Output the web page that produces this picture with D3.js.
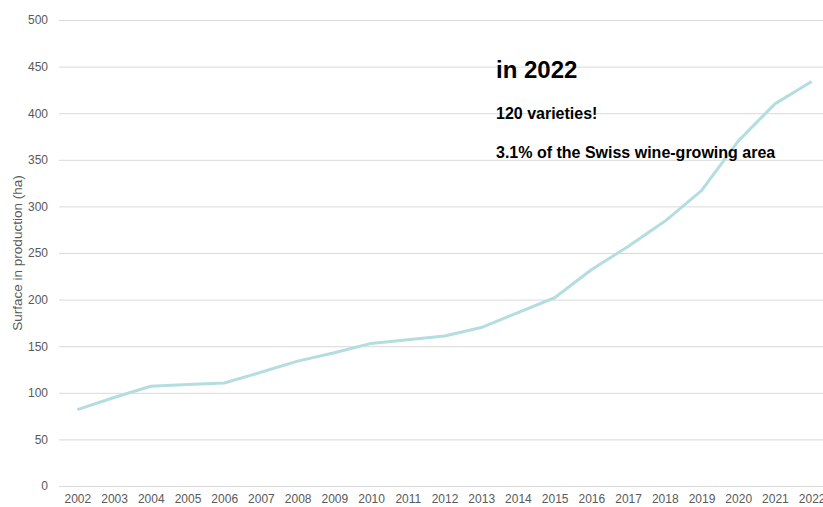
<!DOCTYPE html>
<html><head><meta charset="utf-8">
<script src="https://cdn.jsdelivr.net/npm/d3@7"></script>
<style>body{margin:0;background:#fff}svg{display:block}</style>
</head><body>
<script>
const years = ["2002","2003","2004","2005","2006","2007","2008","2009","2010","2011","2012","2013","2014","2015","2016","2017","2018","2019","2020","2021","2022"];
const surface = [82,95,107,109,110.5,122,134,143,153,157,161,170,186,202,232,257,284,317,370,410,434];
const yTicks = [0,50,100,150,200,250,300,350,400,450,500];
const notes = ["in 2022","120 varieties!","3.1% of the Swiss wine-growing area"];

const W=823,H=507;
const svg=d3.select("body").append("svg").attr("width",W).attr("height",H);
const x=d3.scalePoint().domain(years).range([59,830]).padding(0.5);
const y=d3.scaleLinear().domain([0,500]).range([486,20]);

const font="Liberation Sans, Arial, sans-serif";
const gy=svg.append("g").attr("transform","translate(59,0)")
  .call(d3.axisLeft(y).tickValues(yTicks).tickSize(-(W-59)).tickPadding(11));
gy.select(".domain").remove();
gy.selectAll("line").attr("stroke","#d9d9d9").attr("stroke-width",1);
gy.selectAll("text").attr("fill","#595959").attr("font-size","12px").attr("font-family",font);

const gx=svg.append("g").attr("transform","translate(0,486)")
  .call(d3.axisBottom(x).tickSize(0).tickPadding(8));
gx.select(".domain").remove();
gx.selectAll("text").attr("fill","#595959").attr("font-size","12px").attr("font-family",font);

svg.append("text").attr("transform","translate(22,253) rotate(-90)")
  .attr("text-anchor","middle").attr("font-size","13.5px").attr("fill","#595959")
  .attr("font-family",font).text("Surface in production (ha)");

const line=d3.line().x((d,i)=>x(years[i])).y(d=>y(d));
svg.append("path").datum(surface).attr("d",line).attr("fill","none")
  .attr("stroke","#b4dde0").attr("stroke-width",3).attr("stroke-linejoin","round");

svg.append("text").attr("x",496).attr("y",78).attr("font-size","24px").attr("font-weight","bold")
  .attr("font-family",font).attr("fill","#000").text(notes[0]);
svg.append("text").attr("x",496).attr("y",119).attr("font-size","16px").attr("font-weight","bold")
  .attr("font-family",font).attr("fill","#000").text(notes[1]);
svg.append("text").attr("x",496).attr("y",158).attr("font-size","16px").attr("font-weight","bold")
  .attr("font-family",font).attr("fill","#000").text(notes[2]);
</script>
</body></html>
